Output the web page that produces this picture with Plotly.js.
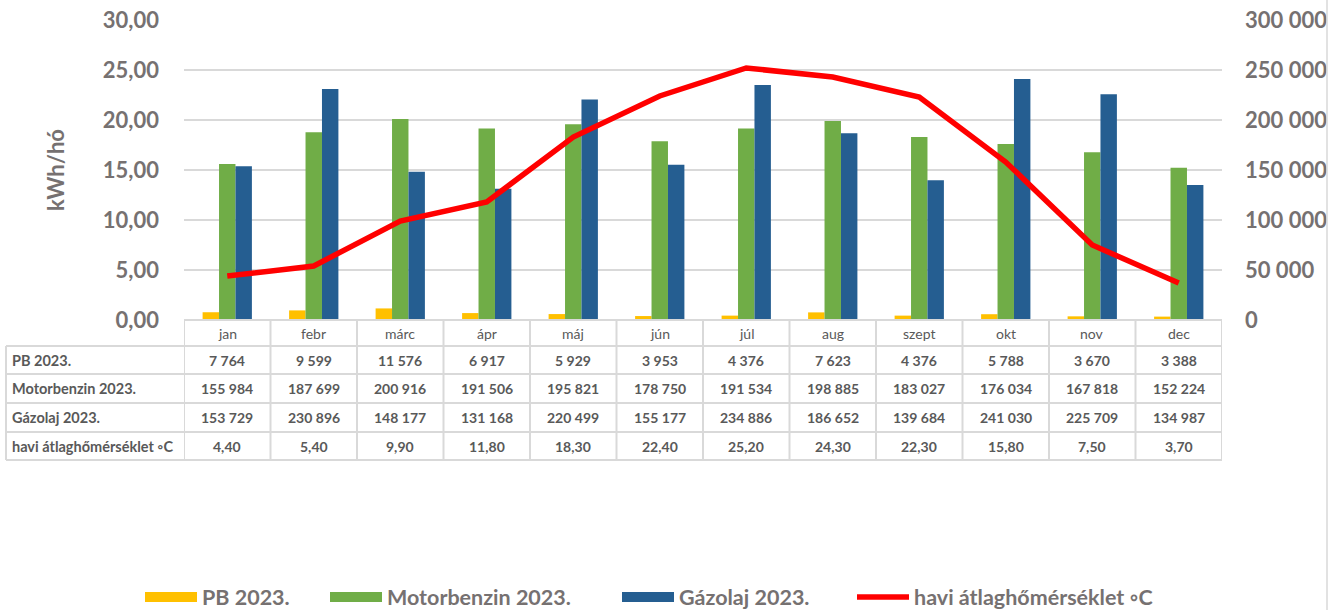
<!DOCTYPE html>
<html>
<head>
<meta charset="utf-8">
<script src="https://cdn.plot.ly/plotly-3.0.1.min.js"></script>
<style>html,body{margin:0;padding:0;background:#fff;}#chart{width:1336px;height:610px;}</style>
</head>
<body>
<div id="chart"></div>
<script>
var months = ["jan","febr","márc","ápr","máj","jún","júl","aug","szept","okt","nov","dec"];
var pb2023 = [7764, 9599, 11576, 6917, 5929, 3953, 4376, 7623, 4376, 5788, 3670, 3388];
var motorbenzin2023 = [155984, 187699, 200916, 191506, 195821, 178750, 191534, 198885, 183027, 176034, 167818, 152224];
var gazolaj2023 = [153729, 230896, 148177, 131168, 220499, 155177, 234886, 186652, 139684, 241030, 225709, 134987];
var homerseklet = [4.40, 5.40, 9.90, 11.80, 18.30, 22.40, 25.20, 24.30, 22.30, 15.80, 7.50, 3.70];
var seriesNames = ["PB 2023.", "Motorbenzin 2023.", "Gázolaj 2023.", "havi átlaghőmérséklet ◦C"];
var seriesColors = ['#FFC000', '#70AD47', '#255E91', '#FF0000'];

var W = 1336, H = 610;
var L = 184, R = 1222, T = 20, B = 320;
var plotW = R - L, plotH = B - T;
function px(x) { return (x - L) / plotW; }
function py(y) { return (B - y) / plotH; }

function fmtInt(v) { return String(v).replace(/\B(?=(\d{3})+(?!\d))/g, ' '); }
function fmtDec(v) { return v.toFixed(2).replace('.', ','); }

var FONT = 'Lato, "Open Sans", sans-serif';
var GRAY = '#767171';
var TGRAY = '#595959';
var BORDER = '#d9d9d9';

var traces = [
  {type: 'bar', name: seriesNames[0], x: months, y: pb2023, marker: {color: seriesColors[0]}, yaxis: 'y', showlegend: false, legendgroup: 'pb'},
  {type: 'bar', name: seriesNames[1], x: months, y: motorbenzin2023, marker: {color: seriesColors[1]}, yaxis: 'y', showlegend: false, legendgroup: 'mb'},
  {type: 'bar', name: seriesNames[2], x: months, y: gazolaj2023, marker: {color: seriesColors[2]}, yaxis: 'y', showlegend: false, legendgroup: 'gz'},
  // legend keys for the bar series (wide rectangles as in the reference)
  {type: 'scatter', mode: 'lines', name: seriesNames[0], x: [null], y: [null], yaxis: 'y', legend: 'legend', legendgroup: 'pb', line: {color: seriesColors[0], width: 14}, hoverinfo: 'skip'},
  {type: 'scatter', mode: 'lines', name: seriesNames[1], x: [null], y: [null], yaxis: 'y', legend: 'legend2', legendgroup: 'mb', line: {color: seriesColors[1], width: 14}, hoverinfo: 'skip'},
  {type: 'scatter', mode: 'lines', name: seriesNames[2], x: [null], y: [null], yaxis: 'y', legend: 'legend3', legendgroup: 'gz', line: {color: seriesColors[2], width: 14}, hoverinfo: 'skip'},
  {type: 'scatter', mode: 'lines', name: seriesNames[3], x: months, y: homerseklet, yaxis: 'y2', legend: 'legend4',
   line: {color: seriesColors[3], width: 5.5}}
];

var shapes = [];
var annotations = [];
var rowB = [320, 346, 374, 403, 432, 460];
var labelLeft = 6;
shapes.push({type: 'line', xref: 'paper', yref: 'paper', x0: 0, x1: 1, y0: py(rowB[0]), y1: py(rowB[0]), line: {color: BORDER, width: 2}});
for (var r = 1; r < rowB.length; r++) {
  shapes.push({type: 'line', xref: 'paper', yref: 'paper', x0: px(labelLeft), x1: 1, y0: py(rowB[r]), y1: py(rowB[r]), line: {color: BORDER, width: 2}});
}
shapes.push({type: 'line', xref: 'paper', yref: 'paper', x0: px(labelLeft), x1: px(labelLeft), y0: py(rowB[1]), y1: py(rowB[5]), line: {color: BORDER, width: 2}});
for (var k = 0; k <= months.length; k++) {
  shapes.push({type: 'line', xref: 'x', yref: 'paper', x0: k - 0.5, x1: k - 0.5, y0: py(rowB[0]), y1: py(rowB[5]), line: {color: BORDER, width: 2}});
}
shapes.push({type: 'line', xref: 'paper', yref: 'paper', x0: px(1327), x1: px(1327), y0: py(0), y1: py(610), line: {color: BORDER, width: 1.5}});

var rows = [
  {label: null, vals: months},
  {label: seriesNames[0], vals: pb2023.map(fmtInt)},
  {label: seriesNames[1], vals: motorbenzin2023.map(fmtInt)},
  {label: seriesNames[2], vals: gazolaj2023.map(fmtInt)},
  {label: seriesNames[3], vals: homerseklet.map(fmtDec)}
];
rows.forEach(function(row, ri) {
  var yc = py((rowB[ri] + rowB[ri + 1]) / 2);
  if (row.label) {
    annotations.push({xref: 'paper', yref: 'paper', x: px(10), y: yc, xanchor: 'left', yanchor: 'middle',
      text: '<b>' + row.label + '</b>', showarrow: false, font: {family: FONT, size: 14.5, color: TGRAY}});
  }
  row.vals.forEach(function(v, i) {
    annotations.push({xref: 'x', yref: 'paper', x: i, y: yc, xanchor: 'center', yanchor: 'middle',
      text: ri === 0 ? v : '<b>' + v + '</b>', showarrow: false,
      font: {family: FONT, size: 14, color: TGRAY}});
  });
});

function legendAt(leftPx) {
  return {orientation: 'h', xref: 'container', yref: 'container', x: (leftPx - 5) / W, xanchor: 'left',
    y: 1 - 597 / H, yanchor: 'middle', bgcolor: 'rgba(0,0,0,0)',
    font: {family: FONT, size: 21.5, color: GRAY, weight: 'bold'}, itemwidth: 52};
}

var layout = {
  width: W, height: H,
  margin: {l: L, r: W - R, t: T, b: H - B, pad: 0},
  paper_bgcolor: '#ffffff', plot_bgcolor: '#ffffff',
  separators: ', ',
  font: {family: FONT, color: GRAY},
  barmode: 'group', bargap: 0.43, bargroupgap: 0,
  showlegend: true,
  legend: legendAt(145),
  legend2: legendAt(330),
  legend3: legendAt(622),
  legend4: legendAt(857),
  xaxis: {type: 'category', range: [-0.5, 11.5], showticklabels: false, showgrid: false, zeroline: false,
    showline: false, ticks: ''},
  yaxis: {side: 'right', range: [0, 300000], dtick: 50000, tickformat: ',d',
    showgrid: true, gridcolor: BORDER, gridwidth: 2, zeroline: false, showline: false,
    ticks: '', ticklabelstandoff: 22,
    tickfont: {family: FONT, size: 22, color: GRAY, weight: 'bold'}},
  yaxis2: {overlaying: 'y', side: 'left', range: [0, 30], dtick: 5, tickformat: '.2f',
    showgrid: false, zeroline: false, showline: false, ticks: '', ticklabelstandoff: 24,
    tickfont: {family: FONT, size: 22, color: GRAY, weight: 'bold'},
    title: {text: '<b>kWh/hó</b>', standoff: 32, font: {family: FONT, size: 22, color: GRAY}}},
  shapes: shapes,
  annotations: annotations
};

Plotly.newPlot('chart', traces, layout, {displayModeBar: false, responsive: false});
</script>
</body>
</html>
